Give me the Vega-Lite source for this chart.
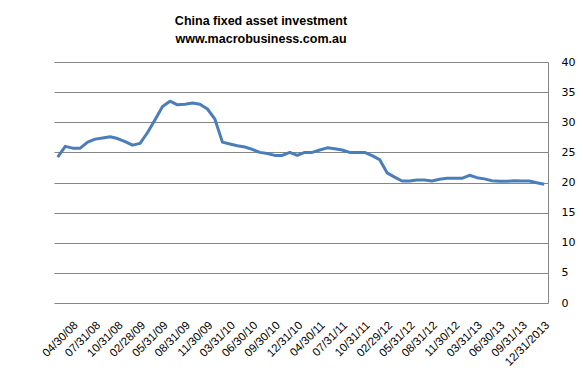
{
  "$schema": "https://vega.github.io/schema/vega-lite/v6.json",
  "width": 494,
  "height": 241,
  "autosize": {"type": "none"},
  "padding": {"left": 54, "top": 62, "right": 35, "bottom": 76},
  "background": "white",
  "title": {
    "text": ["China fixed asset investment", "www.macrobusiness.com.au"],
    "font": "Liberation Sans",
    "fontSize": 12.5,
    "fontWeight": "bold",
    "color": "#000000",
    "anchor": "middle",
    "dx": -40,
    "offset": 11,
    "lineHeight": 18
  },
  "config": {"view": {"stroke": null}},
  "data": {
    "values": [
      {"date": "04/30/08", "v": 24.2}, {"date": "05/31/08", "v": 26.0}, {"date": "06/30/08", "v": 25.7},
      {"date": "07/31/08", "v": 25.7}, {"date": "08/31/08", "v": 26.7}, {"date": "09/30/08", "v": 27.2},
      {"date": "10/31/08", "v": 27.4}, {"date": "11/30/08", "v": 27.6}, {"date": "12/31/08", "v": 27.3},
      {"date": "02/28/09", "v": 26.8}, {"date": "03/31/09", "v": 26.2}, {"date": "04/30/09", "v": 26.5},
      {"date": "05/31/09", "v": 28.3}, {"date": "06/30/09", "v": 30.4}, {"date": "07/31/09", "v": 32.6},
      {"date": "08/31/09", "v": 33.5}, {"date": "09/30/09", "v": 32.9}, {"date": "10/31/09", "v": 33.0},
      {"date": "11/30/09", "v": 33.2}, {"date": "12/31/09", "v": 33.0}, {"date": "02/28/10", "v": 32.2},
      {"date": "03/31/10", "v": 30.5}, {"date": "04/30/10", "v": 26.7}, {"date": "05/31/10", "v": 26.4},
      {"date": "06/30/10", "v": 26.1}, {"date": "07/31/10", "v": 25.9}, {"date": "08/31/10", "v": 25.5},
      {"date": "09/30/10", "v": 25.0}, {"date": "10/31/10", "v": 24.8}, {"date": "11/30/10", "v": 24.5},
      {"date": "12/31/10", "v": 24.5}, {"date": "02/28/11", "v": 25.0}, {"date": "03/31/11", "v": 24.5},
      {"date": "04/30/11", "v": 25.0}, {"date": "05/31/11", "v": 25.0}, {"date": "06/30/11", "v": 25.4},
      {"date": "07/31/11", "v": 25.75}, {"date": "08/31/11", "v": 25.6}, {"date": "09/30/11", "v": 25.4},
      {"date": "10/31/11", "v": 25.0}, {"date": "11/30/11", "v": 25.0}, {"date": "12/31/11", "v": 25.0},
      {"date": "02/29/12", "v": 24.45}, {"date": "03/31/12", "v": 23.8}, {"date": "04/30/12", "v": 21.6},
      {"date": "05/31/12", "v": 20.9}, {"date": "06/30/12", "v": 20.25}, {"date": "07/31/12", "v": 20.25},
      {"date": "08/31/12", "v": 20.4}, {"date": "09/30/12", "v": 20.4}, {"date": "10/31/12", "v": 20.25},
      {"date": "11/30/12", "v": 20.55}, {"date": "12/31/12", "v": 20.7}, {"date": "02/28/13", "v": 20.7},
      {"date": "03/31/13", "v": 20.7}, {"date": "04/30/13", "v": 21.2}, {"date": "05/31/13", "v": 20.8},
      {"date": "06/30/13", "v": 20.6}, {"date": "07/31/13", "v": 20.3}, {"date": "08/31/13", "v": 20.2},
      {"date": "09/31/13", "v": 20.2}, {"date": "10/31/13", "v": 20.3}, {"date": "11/30/13", "v": 20.25},
      {"date": "12/31/2013", "v": 20.25}, {"date": "02/28/14", "v": 19.95}, {"date": "03/31/14", "v": 19.7}
    ]
  },
  "mark": {"type": "line", "color": "#4a7ebb", "strokeWidth": 3, "strokeJoin": "round", "strokeCap": "butt"},
  "encoding": {
    "x": {
      "field": "date",
      "type": "ordinal",
      "sort": null,
      "scale": {"type": "point", "padding": 0.5},
      "axis": {
        "title": null,
        "values": ["04/30/08", "07/31/08", "10/31/08", "02/28/09", "05/31/09", "08/31/09", "11/30/09", "03/31/10", "06/30/10", "09/30/10", "12/31/10", "04/30/11", "07/31/11", "10/31/11", "02/29/12", "05/31/12", "08/31/12", "11/30/12", "03/31/13", "06/30/13", "09/31/13", "12/31/2013"],
        "labelAngle": -45,
        "labelOffset": 14,
        "labelPadding": 16,
        "labelFont": "Liberation Sans",
        "labelFontSize": 11.5,
        "labelColor": "#000000",
        "ticks": false,
        "domain": false,
        "grid": false
      }
    },
    "y": {
      "field": "v",
      "type": "quantitative",
      "scale": {"domain": [0, 40], "nice": false},
      "axis": {
        "orient": "right",
        "title": null,
        "values": [0, 5, 10, 15, 20, 25, 30, 35, 40],
        "grid": true,
        "gridColor": "#868686",
        "gridOpacity": 1,
        "domain": true,
        "domainColor": "#868686",
        "ticks": false,
        "labelPadding": 13,
        "labelFont": "DejaVu Sans",
        "labelFontSize": 11,
        "labelColor": "#000000"
      }
    }
  }
}
